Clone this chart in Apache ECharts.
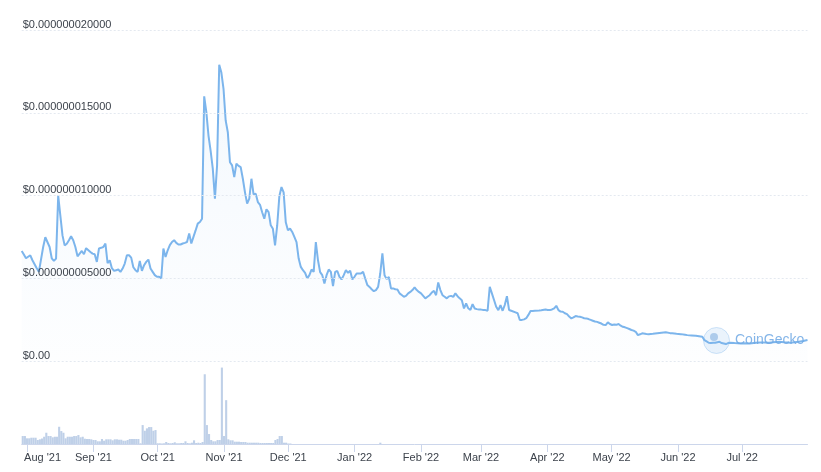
<!DOCTYPE html>
<html>
<head>
<meta charset="utf-8">
<script src="https://cdn.jsdelivr.net/npm/echarts@6/dist/echarts.min.js"></script>
<style>
html,body{margin:0;padding:0;background:#ffffff;}
#chart{width:821px;height:472px;}
</style>
</head>
<body>
<div id="chart"></div>
<script>
// Price in units of 1e-9 USD (nano-dollars)
const priceSeries = [
['2021-07-30',6.66],['2021-07-31',6.45],
['2021-08-01',6.22],['2021-08-03',6.40],['2021-08-04',6.10],['2021-08-06',5.62],['2021-08-07',5.40],['2021-08-09',6.90],['2021-08-10',7.49],['2021-08-12',6.90],['2021-08-13',6.22],['2021-08-14',6.06],['2021-08-15',6.2],['2021-08-16',10.0],['2021-08-17',8.8],['2021-08-18',7.6],['2021-08-19',7.0],['2021-08-20',7.1],['2021-08-21',7.31],['2021-08-22',7.55],['2021-08-23',7.31],['2021-08-24',6.90],['2021-08-25',6.34],['2021-08-26',6.5],['2021-08-27',6.66],['2021-08-28',6.46],['2021-08-29',6.83],['2021-08-31',6.60],
['2021-09-01',6.5],['2021-09-02',6.46],['2021-09-03',6.00],['2021-09-04',6.81],['2021-09-05',6.85],['2021-09-06',6.90],['2021-09-07',7.11],['2021-09-08',5.92],['2021-09-09',6.10],['2021-09-10',5.62],['2021-09-11',5.46],['2021-09-12',5.5],['2021-09-13',5.54],['2021-09-14',5.40],['2021-09-15',5.6],['2021-09-16',5.90],['2021-09-17',6.40],['2021-09-18',6.4],['2021-09-19',6.26],['2021-09-20',5.68],['2021-09-21',5.5],['2021-09-22',5.40],['2021-09-23',6.06],['2021-09-24',5.46],['2021-09-25',5.8],['2021-09-26',6.00],['2021-09-27',6.14],['2021-09-28',5.60],['2021-09-29',5.4],['2021-09-30',5.20],
['2021-10-01',5.10],['2021-10-02',5.1],['2021-10-03',5.00],['2021-10-04',6.81],['2021-10-05',6.30],['2021-10-06',6.7],['2021-10-07',7.01],['2021-10-08',7.2],['2021-10-09',7.31],['2021-10-10',7.15],['2021-10-11',7.05],['2021-10-12',7.05],['2021-10-13',7.11],['2021-10-14',7.15],['2021-10-15',7.20],['2021-10-16',7.71],['2021-10-17',7.11],['2021-10-18',7.51],['2021-10-19',7.9],['2021-10-20',8.31],['2021-10-21',8.41],['2021-10-22',8.61],['2021-10-23',16.0],['2021-10-24',15.04],['2021-10-25',13.63],['2021-10-26',12.7],['2021-10-27',11.63],['2021-10-28',9.82],['2021-10-29',11.83],['2021-10-30',17.9],['2021-10-31',17.43],
['2021-11-01',16.45],['2021-11-02',14.54],['2021-11-03',13.83],['2021-11-04',12.02],['2021-11-05',11.83],['2021-11-06',11.12],['2021-11-07',11.93],['2021-11-08',11.8],['2021-11-09',11.72],['2021-11-10',11.02],['2021-11-11',10.2],['2021-11-12',9.52],['2021-11-13',9.82],['2021-11-14',11.02],['2021-11-15',10.08],['2021-11-16',10.12],['2021-11-17',9.61],['2021-11-18',9.45],['2021-11-19',9.0],['2021-11-20',8.61],['2021-11-21',9.18],['2021-11-22',9.01],['2021-11-23',8.21],['2021-11-24',8.0],['2021-11-25',7.0],['2021-11-26',8.2],['2021-11-27',9.96],['2021-11-28',10.52],['2021-11-29',10.2],['2021-11-30',8.39],
['2021-12-01',7.91],['2021-12-02',8.01],['2021-12-03',7.81],['2021-12-04',7.51],['2021-12-05',7.2],['2021-12-06',6.2],['2021-12-07',5.7],['2021-12-08',5.50],['2021-12-09',5.34],['2021-12-10',5.00],['2021-12-11',5.20],['2021-12-12',5.54],['2021-12-13',5.40],['2021-12-14',7.20],['2021-12-15',6.1],['2021-12-16',5.38],['2021-12-17',5.20],['2021-12-18',4.70],['2021-12-19',5.2],['2021-12-20',5.54],['2021-12-21',5.40],['2021-12-22',4.54],['2021-12-23',5.40],['2021-12-24',5.45],['2021-12-25',5.1],['2021-12-26',4.94],['2021-12-27',5.2],['2021-12-28',5.50],['2021-12-29',5.34],['2021-12-30',5.46],['2021-12-31',4.94],
['2022-01-01',5.1],['2022-01-02',5.30],['2022-01-03',5.3],['2022-01-04',5.30],['2022-01-05',5.40],['2022-01-06',5.0],['2022-01-07',4.60],['2022-01-08',4.49],['2022-01-09',4.35],['2022-01-10',4.23],['2022-01-11',4.3],['2022-01-12',4.49],['2022-01-13',5.30],['2022-01-14',6.51],['2022-01-15',5.20],['2022-01-16',4.96],['2022-01-17',5.10],['2022-01-18',4.40],['2022-01-19',4.4],['2022-01-20',4.35],['2022-01-21',4.34],['2022-01-22',4.10],['2022-01-23',4.0],['2022-01-24',3.9],['2022-01-25',3.95],['2022-01-26',4.1],['2022-01-27',4.19],['2022-01-28',4.3],['2022-01-29',4.46],['2022-01-30',4.3],['2022-01-31',4.19],
['2022-02-01',4.10],['2022-02-02',3.95],['2022-02-03',3.80],['2022-02-04',3.9],['2022-02-05',3.99],['2022-02-06',4.15],['2022-02-07',4.25],['2022-02-08',3.99],['2022-02-09',4.76],['2022-02-10',4.30],['2022-02-11',3.99],['2022-02-12',3.9],['2022-02-13',3.80],['2022-02-14',3.92],['2022-02-15',3.95],['2022-02-16',3.89],['2022-02-17',4.10],['2022-02-18',3.93],['2022-02-19',3.8],['2022-02-20',3.69],['2022-02-21',3.19],['2022-02-22',3.49],['2022-02-23',3.2],['2022-02-24',3.1],['2022-02-25',3.45],['2022-02-26',3.19],['2022-02-27',3.15],['2022-02-28',3.13],
['2022-03-01',3.12],['2022-03-02',3.1],['2022-03-03',3.09],['2022-03-04',3.05],['2022-03-05',4.5],['2022-03-06',4.1],['2022-03-07',3.7],['2022-03-08',3.29],['2022-03-09',3.09],['2022-03-10',3.39],['2022-03-11',3.05],['2022-03-12',3.4],['2022-03-13',3.93],['2022-03-14',3.1],['2022-03-15',3.05],['2022-03-17',2.95],['2022-03-18',2.9],['2022-03-19',2.49],['2022-03-20',2.5],['2022-03-21',2.53],['2022-03-22',2.6],['2022-03-23',2.8],['2022-03-24',3.03],['2022-03-25',3.04],['2022-03-26',3.05],['2022-03-28',3.06],['2022-03-29',3.08],['2022-03-31',3.13],
['2022-04-01',3.1],['2022-04-02',3.09],['2022-04-03',3.13],['2022-04-04',3.2],['2022-04-05',3.35],['2022-04-06',3.09],['2022-04-07',3.0],['2022-04-08',2.99],['2022-04-09',2.9],['2022-04-10',2.85],['2022-04-11',2.7],['2022-04-12',2.59],['2022-04-13',2.65],['2022-04-14',2.73],['2022-04-15',2.7],['2022-04-16',2.69],['2022-04-17',2.65],['2022-04-18',2.6],['2022-04-19',2.59],['2022-04-20',2.55],['2022-04-21',2.5],['2022-04-22',2.45],['2022-04-23',2.4],['2022-04-24',2.38],['2022-04-25',2.33],['2022-04-26',2.28],['2022-04-27',2.2],['2022-04-28',2.19],['2022-04-29',2.35],['2022-04-30',2.25],
['2022-05-01',2.19],['2022-05-02',2.22],['2022-05-03',2.2],['2022-05-04',2.25],['2022-05-05',2.15],['2022-05-06',2.08],['2022-05-07',2.05],['2022-05-08',2.0],['2022-05-09',1.95],['2022-05-10',1.89],['2022-05-11',1.85],['2022-05-12',1.78],['2022-05-13',1.58],['2022-05-14',1.63],['2022-05-15',1.69],['2022-05-17',1.65],['2022-05-18',1.64],['2022-05-20',1.66],['2022-05-22',1.69],['2022-05-24',1.72],['2022-05-26',1.75],['2022-05-28',1.7],['2022-05-29',1.69],['2022-05-31',1.66],
['2022-06-02',1.64],['2022-06-04',1.6],['2022-06-05',1.58],['2022-06-07',1.56],['2022-06-09',1.54],['2022-06-12',1.48],['2022-06-13',1.28],['2022-06-14',1.2],['2022-06-15',1.12],['2022-06-16',1.1],['2022-06-17',1.12],['2022-06-18',1.12],['2022-06-19',1.15],['2022-06-20',1.18],['2022-06-21',1.1],['2022-06-22',1.07],['2022-06-23',1.04],['2022-06-24',1.1],['2022-06-25',1.12],['2022-06-27',1.1],['2022-06-30',1.08],
['2022-07-02',1.09],['2022-07-04',1.08],['2022-07-07',1.12],['2022-07-09',1.14],['2022-07-11',1.13],['2022-07-13',1.12],['2022-07-15',1.15],['2022-07-18',1.18],['2022-07-20',1.15],['2022-07-23',1.12],['2022-07-25',1.15],['2022-07-27',1.18],['2022-07-29',1.22],['2022-07-31',1.28]
];

// Daily volume (relative units, thousands USD estimate)
const volumeSeries = [
['2021-07-30',80],['2021-07-31',80],
['2021-08-01',57],['2021-08-02',57],['2021-08-03',63],['2021-08-04',63],['2021-08-05',63],['2021-08-06',40],['2021-08-07',47],['2021-08-08',55],['2021-08-09',73],['2021-08-10',113],['2021-08-11',80],['2021-08-12',80],['2021-08-13',67],['2021-08-14',73],['2021-08-15',73],['2021-08-16',173],['2021-08-17',130],['2021-08-18',113],['2021-08-19',57],['2021-08-20',73],['2021-08-21',73],['2021-08-22',73],['2021-08-23',80],['2021-08-24',80],['2021-08-25',90],['2021-08-26',67],['2021-08-27',73],['2021-08-28',53],['2021-08-29',50],['2021-08-30',50],['2021-08-31',47],
['2021-09-01',40],['2021-09-02',40],['2021-09-03',27],['2021-09-04',27],['2021-09-05',50],['2021-09-06',33],['2021-09-07',47],['2021-09-08',47],['2021-09-09',47],['2021-09-10',37],['2021-09-11',47],['2021-09-12',47],['2021-09-13',43],['2021-09-14',43],['2021-09-15',33],['2021-09-16',33],['2021-09-17',40],['2021-09-18',50],['2021-09-19',50],['2021-09-20',50],['2021-09-21',50],['2021-09-22',50],['2021-09-23',7],['2021-09-24',190],['2021-09-25',133],['2021-09-26',157],['2021-09-27',170],['2021-09-28',170],['2021-09-29',133],['2021-09-30',140],
['2021-10-01',7],['2021-10-02',7],['2021-10-03',5],['2021-10-04',7],['2021-10-05',20],['2021-10-06',10],['2021-10-07',7],['2021-10-08',10],['2021-10-09',17],['2021-10-10',7],['2021-10-11',7],['2021-10-12',10],['2021-10-13',10],['2021-10-14',27],['2021-10-15',10],['2021-10-16',7],['2021-10-17',13],['2021-10-18',37],['2021-10-19',10],['2021-10-20',13],['2021-10-21',10],['2021-10-22',20],['2021-10-23',700],['2021-10-24',190],['2021-10-25',100],['2021-10-26',40],['2021-10-27',27],['2021-10-28',27],['2021-10-29',40],['2021-10-30',40],['2021-10-31',767],
['2021-11-01',80],['2021-11-02',440],['2021-11-03',47],['2021-11-04',37],['2021-11-05',37],['2021-11-06',23],['2021-11-07',23],['2021-11-08',23],['2021-11-09',20],['2021-11-10',20],['2021-11-11',20],['2021-11-12',13],['2021-11-13',13],['2021-11-14',13],['2021-11-15',13],['2021-11-16',13],['2021-11-17',13],['2021-11-18',10],['2021-11-19',10],['2021-11-20',10],['2021-11-21',10],['2021-11-22',10],['2021-11-23',10],['2021-11-24',10],['2021-11-25',40],['2021-11-26',50],['2021-11-27',80],['2021-11-28',80],['2021-11-29',13],['2021-11-30',13],
['2021-12-01',5],['2021-12-02',5],
['2022-01-13',13]
];

const yTicks = [0, 5, 10, 15, 20];          // nano-USD gridlines
const monthNames = ['Jan','Feb','Mar','Apr','May','Jun','Jul','Aug','Sep','Oct','Nov','Dec'];
const xStart = '2021-07-30';
const xEnd = '2022-07-31';

const FONT = '"Liberation Sans", Arial, sans-serif';
const LABEL_COLOR = '#3c424b';
const DAY = 86400000;

const chart = echarts.init(document.getElementById('chart'), null, {renderer: 'canvas'});

chart.setOption({
  backgroundColor: '#ffffff',
  animation: false,
  grid: [
    {left: 21.7, right: 13.5, top: 30, bottom: 110.7},
    {left: 21.7, right: 13.5, top: 361.3, bottom: 28}
  ],
  xAxis: [
    {type: 'time', gridIndex: 0, min: xStart, max: xEnd, show: false},
    {
      type: 'time', gridIndex: 1, min: xStart, max: xEnd,
      splitNumber: 12, minInterval: 28 * DAY, maxInterval: 31 * DAY,
      axisLine: {show: true, lineStyle: {color: '#ccd6eb', width: 1}},
      axisTick: {show: true, length: 8, lineStyle: {color: '#ccd6eb'}},
      splitLine: {show: false},
      axisLabel: {
        margin: 8, fontSize: 11, color: LABEL_COLOR, fontFamily: FONT,
        showMinLabel: false, showMaxLabel: false, hideOverlap: false,
        formatter: function (val) {
          const d = new Date(val);
          const s = monthNames[d.getMonth()] + " '" + String(d.getFullYear()).slice(2);
          if (d.getFullYear() === 2021 && d.getMonth() === 7) return '{first|' + s + '}';
          return s;
        },
        rich: {
          first: {padding: [0, 0, 0, 31], fontSize: 11, color: LABEL_COLOR, fontFamily: FONT}
        }
      }
    }
  ],
  yAxis: [
    {
      type: 'value', gridIndex: 0, min: yTicks[0], max: yTicks[yTicks.length - 1], interval: 5,
      position: 'left', z: 5,
      axisLine: {show: false}, axisTick: {show: false},
      splitLine: {show: true, lineStyle: {color: '#e4e9f0', type: [2, 2], width: 1}},
      axisLabel: {
        inside: true, margin: 1, verticalAlign: 'bottom', align: 'left',
        fontSize: 11, color: LABEL_COLOR, fontFamily: FONT,
        formatter: function (v) { return v === 0 ? '$0.00' : '$' + (v / 1e9).toFixed(12); }
      }
    },
    {
      type: 'value', gridIndex: 1, min: 0, max: 830, show: false,
      splitLine: {show: false}
    }
  ],
  series: [
    {
      type: 'line', xAxisIndex: 0, yAxisIndex: 0, data: priceSeries,
      showSymbol: false, symbol: 'none',
      lineStyle: {color: '#7cb5ec', width: 2},
      itemStyle: {color: '#7cb5ec'},
      areaStyle: {
        color: new echarts.graphic.LinearGradient(0, 0, 0, 1, [
          {offset: 0, color: 'rgba(124,181,236,0.13)'},
          {offset: 1, color: 'rgba(124,181,236,0.02)'}
        ])
      },
      z: 3
    },
    {
      type: 'bar', xAxisIndex: 1, yAxisIndex: 1, data: volumeSeries,
      barWidth: 2.1, itemStyle: {color: '#bfd0e8'}, z: 2
    }
  ],
  graphic: [
    {type: 'circle', shape: {cx: 716.5, cy: 340.5, r: 13}, z: 100,
     style: {fill: 'rgba(124,181,236,0.16)', stroke: 'rgba(124,181,236,0.35)', lineWidth: 1}},
    {type: 'circle', shape: {cx: 714, cy: 337, r: 4}, z: 101,
     style: {fill: 'rgba(100,155,215,0.45)'}},
    {type: 'text', x: 735, y: 340.5, z: 101,
     style: {text: 'CoinGecko', font: '14px ' + FONT, fill: 'rgba(110,168,228,0.85)', verticalAlign: 'middle', align: 'left'}}
  ]
});
</script>
</body>
</html>
